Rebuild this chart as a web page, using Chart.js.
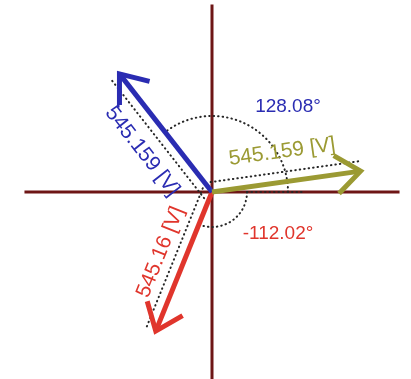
<!DOCTYPE html>
<html>
<head>
<meta charset="utf-8">
<script src="https://cdn.jsdelivr.net/npm/chart.js@4/dist/chart.umd.min.js"></script>
<style>
  html, body { margin: 0; padding: 0; background: #ffffff; }
  canvas { display: block; }
</style>
</head>
<body>
<canvas id="phasors" width="411" height="379"></canvas>
<script>
// Three-phase voltage phasors
const phaseNames = ['Va', 'Vb', 'Vc'];
const magnitudes = [545.159, 545.159, 545.16];     // [V]
const anglesDeg  = [8.0, 128.08, -112.02];         // degrees
const showAngle  = [false, true, true];
const unitLabel  = '[V]';

// Styling
const phaseColors = ['#9b9a33', '#2a2cb2', '#e0352c'];
const axisColor = '#6e1616';
const dotColor = '#262626';
const PX_PER_VOLT = 0.2752;           // drawing scale
const ORIGIN_PX = { x: 212, y: 192 }; // where 0 V sits on the canvas
const CANVAS_W = 411, CANVAS_H = 379;
const AXIS_EXTENT = 1.25 * Math.max(...magnitudes);

const px = p => p / PX_PER_VOLT;      // pixel length -> volts
const rad = d => d * Math.PI / 180;
const polar = (m, d) => ({ x: m * Math.cos(rad(d)), y: m * Math.sin(rad(d)) });

// unit normal on the side where the magnitude label goes (upper-left side)
function labelNormal(d) {
  let n = { x: -Math.sin(rad(d)), y: Math.cos(rad(d)) };
  if (-n.x + n.y < 0) n = { x: -n.x, y: -n.y };
  return n;
}

const datasets = [];
const line = (label, data, color, width, order, extra) =>
  datasets.push(Object.assign({
    label, data, showLine: true, borderColor: color, borderWidth: width,
    pointRadius: 0, pointHoverRadius: 0, fill: false, tension: 0, order
  }, extra || {}));

line('x-axis', [{ x: -AXIS_EXTENT, y: 0 }, { x: AXIS_EXTENT, y: 0 }], axisColor, 3, 11);
line('y-axis', [{ x: 0, y: -AXIS_EXTENT }, { x: 0, y: AXIS_EXTENT }], axisColor, 3, 10);

const dotted = { borderDash: [0.5, 4], borderCapStyle: 'round' };
line('reference', [{ x: px(35), y: 0 }, { x: px(92), y: 0 }], dotColor, 2, 5, dotted);

const HEAD_LEN = px(31), HEAD_ANGLE = 38, DIM_OFFSET = px(10);
phaseNames.forEach((name, i) => {
  const m = magnitudes[i], d = anglesDeg[i];
  const tip = polar(m, d);
  const n = labelNormal(d);
  // dimension line beside the phasor
  line(name + ' dimension', [
    { x: n.x * DIM_OFFSET, y: n.y * DIM_OFFSET },
    { x: tip.x + n.x * DIM_OFFSET, y: tip.y + n.y * DIM_OFFSET }
  ], dotColor, 2, 5, dotted);
  // shaft
  line(name, [{ x: 0, y: 0 }, tip], phaseColors[i], 5, 2, { borderCapStyle: 'butt' });
  // open arrow head
  const a1 = polar(HEAD_LEN, d + 180 - HEAD_ANGLE), a2 = polar(HEAD_LEN, d + 180 + HEAD_ANGLE);
  line(name + ' head', [
    { x: tip.x + a1.x, y: tip.y + a1.y }, tip, { x: tip.x + a2.x, y: tip.y + a2.y }
  ], phaseColors[i], 5, 1, { borderCapStyle: 'butt', borderJoinStyle: 'miter' });
});

// angle arcs (drawn just above the axes) and all text labels
const ARC_RADIUS_PX = [0, 76, 35];
const ANGLE_LABEL_OFFSET_PX = [null, { x: 76, y: -85 }, { x: 66, y: 42 }];
const MAG_LABEL_OFFSET_PX = [30, 30, 25];
const phasorText = {
  id: 'phasorText',
  afterDatasetDraw(chart, args) {
    if (chart.data.datasets[args.index].label !== 'y-axis') return;
    const { ctx, scales } = chart;
    const cx = scales.x.getPixelForValue(0), cy = scales.y.getPixelForValue(0);
    ctx.save();
    ctx.strokeStyle = dotColor;
    ctx.lineWidth = 2;
    ctx.lineCap = 'round';
    ctx.setLineDash([0.5, 4]);
    anglesDeg.forEach((d, i) => {
      if (!showAngle[i]) return;
      ctx.beginPath();
      ctx.arc(cx, cy, ARC_RADIUS_PX[i], 0, -rad(d), d > 0);
      ctx.stroke();
    });
    ctx.restore();
  },
  afterDatasetsDraw(chart) {
    const { ctx, scales } = chart;
    const cx = scales.x.getPixelForValue(0), cy = scales.y.getPixelForValue(0);
    ctx.save();
    ctx.textAlign = 'center';
    ctx.textBaseline = 'middle';
    phaseNames.forEach((name, i) => {
      const m = magnitudes[i], d = anglesDeg[i];
      const n = labelNormal(d);
      const mid = polar(m / 2, d);
      const off = px(MAG_LABEL_OFFSET_PX[i]);
      const x = scales.x.getPixelForValue(mid.x + n.x * off);
      const y = scales.y.getPixelForValue(mid.y + n.y * off);
      let rot = -rad(d);
      if (rot > Math.PI / 2) rot -= Math.PI;
      if (rot < -Math.PI / 2) rot += Math.PI;
      ctx.save();
      ctx.translate(x, y);
      ctx.rotate(rot);
      ctx.fillStyle = phaseColors[i];
      ctx.font = '21px "Liberation Sans", Arial, Helvetica, sans-serif';
      ctx.fillText(m + ' ' + unitLabel, 0, 0);
      ctx.restore();
      if (showAngle[i]) {
        const o = ANGLE_LABEL_OFFSET_PX[i];
        ctx.fillStyle = phaseColors[i];
        ctx.font = '19px "Liberation Sans", Arial, Helvetica, sans-serif';
        ctx.fillText(d.toFixed(2) + '°', cx + o.x, cy + o.y);
      }
    });
    ctx.restore();
  }
};

new Chart(document.getElementById('phasors'), {
  type: 'scatter',
  data: { datasets },
  options: {
    responsive: false,
    animation: false,
    devicePixelRatio: 1,
    layout: { padding: 0 },
    scales: {
      x: { type: 'linear', display: false,
           min: -ORIGIN_PX.x / PX_PER_VOLT, max: (CANVAS_W - ORIGIN_PX.x) / PX_PER_VOLT },
      y: { type: 'linear', display: false,
           min: -(CANVAS_H - ORIGIN_PX.y) / PX_PER_VOLT, max: ORIGIN_PX.y / PX_PER_VOLT }
    },
    plugins: { legend: { display: false }, tooltip: { enabled: false } },
    events: []
  },
  plugins: [phasorText]
});
</script>
</body>
</html>
